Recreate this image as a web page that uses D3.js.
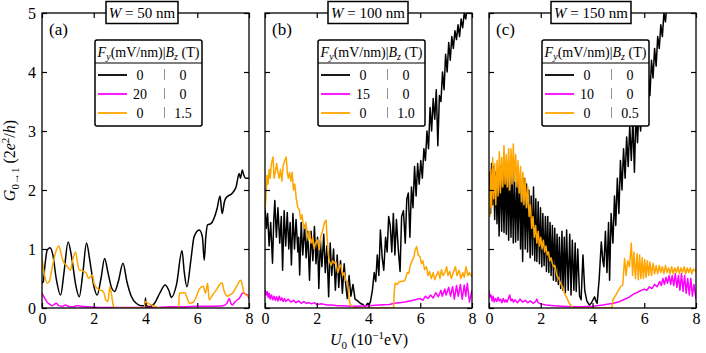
<!DOCTYPE html>
<html>
<head>
<meta charset="utf-8">
<script src="https://cdn.jsdelivr.net/npm/d3@7"></script>
<style>
body { margin: 0; background: #fff; }
svg text { font-family: 'Liberation Serif', 'Times New Roman', serif; fill: #000; }
</style>
</head>
<body>
<script>
const uTicks = [0, 2, 4, 6, 8]
const gTicks = [0, 1, 2, 3, 4, 5]
const panelLabels = ['(a)', '(b)', '(c)']
const wireWidths = ['50', '100', '150']
const fieldValues = ['20', '15', '10']
const bzValues = ['1.5', '1.0', '0.5']
const colors = ['#000000', '#ff00ff', '#ffa500']

// (U0, G) pairs
const aBlack = [[0,0.42],[0.05,0.45],[0.12,0.75],[0.2,0.98],[0.31,1.02],[0.42,0.9],[0.55,0.5],[0.72,0.22],[0.85,0.6],[1.01,1.12],[1.15,0.85],[1.3,0.4],[1.44,0.19],[1.58,0.6],[1.72,1.10],[1.85,0.8],[2.0,0.38],[2.13,0.22],[2.28,0.5],[2.42,0.84],[2.55,0.6],[2.7,0.33],[2.81,0.28],[2.95,0.45],[3.13,0.76],[3.28,0.45],[3.45,0.2],[3.64,0.08],[3.85,0.04],[3.98,0.04],[4.0,0.17],[4.02,0.05],[4.15,0.02],[4.35,0.08],[4.55,0.25],[4.76,0.39],[4.9,0.3],[5.0,0.18],[5.2,0.4],[5.41,0.97],[5.5,0.6],[5.6,0.36],[5.75,0.8],[5.88,1.21],[6.08,1.32],[6.2,1.2],[6.27,0.81],[6.33,1.2],[6.4,1.41],[6.53,1.43],[6.77,1.69],[6.88,1.9],[6.96,1.6],[7.05,1.8],[7.1,1.86],[7.36,1.95],[7.5,2.05],[7.62,2.28],[7.67,2.2],[7.74,2.34],[7.8,2.25],[7.87,2.2],[8,2.2]]
const aMagenta = [[0,0.25],[0.1,0.17],[0.2,0.1],[0.31,0.06],[0.4,0.04],[0.5,0.07],[0.56,0.08],[0.65,0.04],[0.8,0.03],[0.9,0.05],[1.0,0.03],[1.2,0.02],[1.35,0.04],[1.5,0.03],[1.8,0.02],[2.2,0.01],[2.6,0.01],[3.0,0.01],[3.5,0.01],[4.0,0.01],[4.5,0.01],[5.0,0.02],[5.5,0.02],[6.0,0.03],[6.5,0.03],[7.0,0.04],[7.15,0.08],[7.23,0.16],[7.3,0.08],[7.36,0.05],[7.45,0.1],[7.55,0.14],[7.62,0.16],[7.7,0.22],[7.77,0.26],[7.85,0.24],[7.95,0.22],[8,0.15]]
const aOrange = [[0,0.84],[0.08,0.6],[0.2,0.42],[0.28,0.45],[0.4,0.7],[0.5,0.9],[0.65,1.05],[0.75,0.9],[0.82,0.79],[0.95,0.72],[1.1,0.64],[1.18,0.8],[1.3,0.95],[1.36,0.8],[1.44,0.64],[1.53,0.64],[1.6,0.62],[1.7,0.6],[1.8,0.5],[1.95,0.56],[2.01,0.42],[2.1,0.35],[2.2,0.31],[2.3,0.3],[2.4,0.25],[2.46,0.14],[2.55,0.11],[2.62,0.36],[2.68,0.25],[2.75,0.05],[2.81,0],[3.95,0],[4.0,0.11],[4.1,0.08],[4.3,0.04],[4.54,0],[5.28,0],[5.31,0.25],[5.44,0.26],[5.52,0.26],[5.6,0.18],[5.7,0.08],[5.85,0.1],[5.95,0.18],[6.08,0.32],[6.23,0.37],[6.32,0.25],[6.4,0.42],[6.46,0.14],[6.59,0.22],[6.77,0.33],[6.85,0.39],[6.96,0.43],[7.03,0.3],[7.17,0.2],[7.25,0.22],[7.36,0.25],[7.5,0.35],[7.68,0.47],[7.74,0.4],[7.81,0.25],[7.9,0.22],[8,0.19]]

const bBlack = [[0,1.70],[0.05,1.35],[0.10,1.60],[0.16,1.05],[0.22,1.45],[0.29,0.76],[0.34,1.50],[0.38,1.82],[0.44,1.20],[0.50,1.70],[0.57,1.10],[0.63,1.55],[0.68,0.64],[0.74,1.65],[0.80,1.05],[0.86,1.62],[0.92,1.00],[0.97,1.45],[1.02,0.73],[1.08,1.60],[1.14,1.00],[1.20,1.50],[1.27,0.95],[1.30,1.20],[1.34,0.56],[1.40,1.45],[1.46,0.90],[1.53,1.40],[1.59,0.85],[1.65,1.30],[1.72,0.47],[1.78,1.30],[1.85,0.80],[1.91,1.38],[1.97,0.75],[2.03,1.20],[2.08,0.33],[2.14,1.15],[2.20,0.70],[2.27,1.25],[2.33,0.60],[2.39,1.05],[2.46,0.19],[2.52,1.10],[2.58,0.55],[2.65,1.00],[2.72,0.30],[2.79,0.90],[2.85,0.35],[2.92,0.80],[2.99,0.25],[3.06,0.75],[3.12,0.40],[3.18,0.16],[3.25,0.55],[3.32,0.20],[3.40,0.40],[3.48,0.15],[3.58,0.12],[3.68,0.08],[3.78,0.06],[3.86,0.03],[3.92,0.05],[3.97,0.08],[4.02,0.05],[4.08,0.12],[4.15,0.30],[4.22,0.60],[4.28,0.45],[4.34,0.90],[4.40,0.55],[4.46,1.32],[4.53,0.85],[4.59,0.64],[4.66,1.20],[4.72,0.95],[4.78,1.55],[4.84,1.40],[4.90,0.95],[4.96,1.60],[5.02,0.90],[5.08,1.50],[5.15,1.00],[5.22,0.62],[5.28,1.55],[5.35,1.65],[5.42,1.10],[5.48,1.85],[5.54,1.95],[5.60,1.20],[5.66,2.05],[5.72,1.70],[5.78,2.40],[5.84,1.90],[5.90,2.45],[5.96,2.10],[6.02,2.50],[6.08,2.20],[6.14,2.70],[6.20,2.50],[6.26,3.00],[6.32,2.70],[6.38,3.40],[6.44,3.00],[6.50,3.55],[6.56,3.20],[6.62,3.70],[6.68,2.75],[6.74,3.60],[6.80,3.50],[6.86,4.00],[6.92,3.70],[6.98,4.30],[7.04,4.00],[7.10,4.50],[7.16,4.20],[7.22,4.60],[7.28,4.40],[7.34,4.70],[7.40,4.55],[7.46,4.80],[7.52,4.60],[7.58,4.90],[7.64,4.75],[7.70,5.00],[7.76,4.90],[7.82,5.15],[7.90,5.30],[8.0,5.40]]
const bMagenta = [[0,0.31],[0.04,0.22],[0.08,0.28],[0.12,0.18],[0.16,0.25],[0.2,0.15],[0.25,0.22],[0.3,0.14],[0.35,0.2],[0.4,0.13],[0.45,0.19],[0.5,0.12],[0.55,0.2],[0.6,0.13],[0.65,0.17],[0.7,0.11],[0.75,0.16],[0.8,0.11],[0.9,0.15],[1.0,0.1],[1.1,0.13],[1.2,0.09],[1.3,0.12],[1.4,0.08],[1.5,0.11],[1.6,0.08],[1.7,0.09],[1.8,0.07],[1.9,0.09],[2.0,0.06],[2.2,0.07],[2.4,0.05],[2.6,0.05],[2.8,0.04],[3.0,0.04],[3.3,0.03],[3.6,0.03],[4.0,0.04],[4.4,0.05],[4.8,0.06],[5.0,0.08],[5.2,0.09],[5.4,0.1],[5.6,0.12],[5.8,0.14],[6.0,0.16],[6.1,0.13],[6.2,0.2],[6.3,0.16],[6.4,0.22],[6.5,0.17],[6.6,0.26],[6.7,0.19],[6.8,0.3],[6.85,0.2],[6.95,0.32],[7.0,0.22],[7.1,0.35],[7.17,0.2],[7.25,0.36],[7.32,0.15],[7.4,0.38],[7.47,0.2],[7.55,0.4],[7.62,0.15],[7.7,0.39],[7.76,0.2],[7.82,0.42],[7.9,0.1],[8,0.3]]
const bOrange = [[0,1.66],[0.04,1.9],[0.08,2.25],[0.12,2.1],[0.16,2.35],[0.2,2.2],[0.25,2.45],[0.31,2.56],[0.35,2.2],[0.4,2.3],[0.45,2.45],[0.5,2.3],[0.55,2.2],[0.6,2.35],[0.65,2.15],[0.7,2.4],[0.76,2.5],[0.82,2.56],[0.86,2.3],[0.9,2.2],[0.95,2.3],[1.0,2.15],[1.05,2.3],[1.1,2.0],[1.15,2.1],[1.21,1.85],[1.27,1.7],[1.33,1.66],[1.38,1.5],[1.43,1.58],[1.48,1.4],[1.53,1.35],[1.58,1.45],[1.63,1.25],[1.68,1.15],[1.72,1.3],[1.78,1.1],[1.85,1.19],[1.9,1.0],[1.95,1.1],[2.02,1.15],[2.1,0.99],[2.15,1.2],[2.22,1.3],[2.3,1.45],[2.36,1.49],[2.4,1.2],[2.44,0.95],[2.48,0.81],[2.55,0.72],[2.62,0.8],[2.68,0.76],[2.74,0.78],[2.81,0.6],[2.88,0.7],[2.93,0.73],[3.0,0.55],[3.06,0.6],[3.12,0.47],[3.19,0.45],[3.25,0.14],[3.3,0.06],[3.38,0.02],[3.44,0],[4.97,0],[5.0,0.3],[5.03,0.42],[5.1,0.4],[5.2,0.45],[5.3,0.45],[5.41,0.47],[5.5,0.6],[5.56,0.59],[5.6,0.7],[5.68,0.8],[5.76,0.87],[5.8,0.98],[5.86,1.04],[5.92,0.9],[5.99,0.87],[6.05,0.75],[6.1,0.8],[6.17,0.65],[6.24,0.7],[6.3,0.55],[6.36,0.62],[6.43,0.5],[6.5,0.6],[6.56,0.48],[6.62,0.55],[6.7,0.62],[6.76,0.5],[6.82,0.65],[6.88,0.55],[6.95,0.6],[7.02,0.7],[7.07,0.55],[7.14,0.62],[7.2,0.5],[7.28,0.6],[7.36,0.7],[7.42,0.55],[7.5,0.64],[7.57,0.5],[7.64,0.6],[7.7,0.52],[7.77,0.7],[7.84,0.55],[7.9,0.6],[8,0.53]]

const cBlack = [[0,1.70],[0.03,2.30],[0.06,1.60],[0.1,2.45],[0.14,1.75],[0.18,2.40],[0.22,1.50],[0.26,2.30],[0.31,1.43],[0.35,2.35],[0.39,1.22],[0.44,2.40],[0.49,1.30],[0.53,2.40],[0.58,1.28],[0.62,2.46],[0.67,1.25],[0.71,2.35],[0.76,1.15],[0.80,2.35],[0.85,1.20],[0.89,2.30],[0.94,1.10],[0.98,2.35],[1.03,1.12],[1.08,2.25],[1.12,1.15],[1.17,2.20],[1.22,1.00],[1.26,2.10],[1.30,0.79],[1.35,2.20],[1.40,1.00],[1.45,2.10],[1.49,0.95],[1.54,2.00],[1.59,0.85],[1.63,1.90],[1.68,0.90],[1.72,2.05],[1.77,0.80],[1.81,1.85],[1.85,0.79],[1.90,1.80],[1.95,0.75],[1.99,1.70],[2.04,0.70],[2.08,1.60],[2.13,0.72],[2.18,1.55],[2.22,0.62],[2.27,1.55],[2.31,0.60],[2.36,1.45],[2.40,0.55],[2.45,1.40],[2.49,0.47],[2.54,1.35],[2.59,0.45],[2.63,1.25],[2.68,0.40],[2.72,1.20],[2.77,0.33],[2.82,1.30],[2.86,0.30],[2.91,1.20],[2.95,0.26],[3.00,1.32],[3.06,0.30],[3.12,1.25],[3.17,0.22],[3.22,1.15],[3.28,0.30],[3.33,1.10],[3.37,0.28],[3.43,1.00],[3.50,0.20],[3.56,0.14],[3.63,0.90],[3.70,0.30],[3.78,0.12],[3.88,0.05],[3.95,0.08],[4.02,0.14],[4.08,0.19],[4.13,0.12],[4.18,0.08],[4.26,0.50],[4.34,1.12],[4.40,0.80],[4.44,0.70],[4.50,1.30],[4.56,0.60],[4.62,1.45],[4.66,0.47],[4.72,1.60],[4.79,1.10],[4.85,1.90],[4.90,1.40],[4.96,2.20],[5.02,1.60],[5.08,2.50],[5.14,2.00],[5.20,2.70],[5.26,2.20],[5.32,2.90],[5.38,2.40],[5.44,3.10],[5.50,2.50],[5.56,3.20],[5.62,2.30],[5.68,3.30],[5.74,2.80],[5.80,3.40],[5.86,3.00],[5.92,3.60],[5.98,3.20],[6.04,3.80],[6.10,3.40],[6.16,3.95],[6.22,3.60],[6.28,4.20],[6.34,3.90],[6.40,4.40],[6.46,4.10],[6.52,4.60],[6.58,4.40],[6.64,4.80],[6.70,4.60],[6.76,5.00],[6.82,4.85],[6.88,5.20],[6.95,5.40],[7.0,5.60]]
const cMagenta = [[0,0.30],[0.04,0.18],[0.08,0.22],[0.12,0.12],[0.16,0.20],[0.2,0.10],[0.25,0.16],[0.3,0.11],[0.35,0.18],[0.4,0.12],[0.45,0.15],[0.5,0.09],[0.55,0.16],[0.6,0.10],[0.65,0.14],[0.7,0.10],[0.75,0.16],[0.8,0.22],[0.85,0.12],[0.9,0.15],[0.95,0.10],[1.0,0.14],[1.1,0.09],[1.2,0.15],[1.3,0.10],[1.4,0.13],[1.5,0.09],[1.6,0.12],[1.7,0.08],[1.8,0.11],[1.85,0.15],[1.9,0.09],[2.0,0.07],[2.2,0.05],[2.5,0.04],[2.8,0.03],[3.2,0.02],[3.6,0.02],[4.0,0.03],[4.4,0.05],[4.8,0.08],[5.0,0.10],[5.2,0.14],[5.4,0.18],[5.6,0.24],[5.8,0.28],[6.0,0.32],[6.1,0.30],[6.2,0.36],[6.3,0.33],[6.4,0.40],[6.5,0.36],[6.6,0.45],[6.66,0.38],[6.72,0.50],[6.78,0.40],[6.84,0.52],[6.9,0.42],[6.96,0.55],[7.02,0.40],[7.08,0.55],[7.14,0.38],[7.2,0.58],[7.26,0.35],[7.32,0.55],[7.38,0.30],[7.44,0.58],[7.5,0.28],[7.56,0.55],[7.62,0.25],[7.68,0.50],[7.74,0.22],[7.8,0.50],[7.86,0.20],[7.92,0.40],[8.0,0.15]]
const cOrange = [[0,2.0],[0.03,1.55],[0.06,2.35],[0.1,1.70],[0.14,2.55],[0.18,1.85],[0.22,2.45],[0.26,1.75],[0.31,2.50],[0.35,1.90],[0.40,2.65],[0.44,1.95],[0.49,2.55],[0.53,2.05],[0.58,2.75],[0.62,2.10],[0.67,2.60],[0.71,2.05],[0.76,2.70],[0.80,2.00],[0.85,2.70],[0.89,2.10],[0.94,2.78],[0.98,2.15],[1.03,2.60],[1.08,2.05],[1.12,2.50],[1.17,1.95],[1.22,2.40],[1.26,1.80],[1.31,2.30],[1.35,1.75],[1.40,2.20],[1.45,1.70],[1.50,2.05],[1.55,1.55],[1.60,1.75],[1.65,1.35],[1.70,1.55],[1.75,1.20],[1.80,1.40],[1.85,1.10],[1.90,1.30],[1.95,1.05],[2.00,1.20],[2.05,1.00],[2.10,1.15],[2.15,0.95],[2.20,1.05],[2.25,0.90],[2.30,0.95],[2.35,0.80],[2.40,0.85],[2.45,0.75],[2.50,0.70],[2.55,0.72],[2.62,0.55],[2.70,0.50],[2.78,0.40],[2.85,0.35],[2.92,0.25],[3.00,0.18],[3.08,0.10],[3.15,0.05],[3.25,0],[4.75,0],[4.79,0.14],[4.90,0.22],[4.98,0.28],[5.08,0.36],[5.17,0.39],[5.24,0.84],[5.30,0.55],[5.36,0.80],[5.43,0.70],[5.50,1.10],[5.55,0.55],[5.60,0.95],[5.66,0.50],[5.72,0.92],[5.77,0.48],[5.82,0.90],[5.87,0.50],[5.92,0.85],[5.97,0.50],[6.02,0.82],[6.07,0.52],[6.12,0.80],[6.17,0.55],[6.22,0.78],[6.28,0.55],[6.34,0.76],[6.40,0.58],[6.46,0.72],[6.52,0.58],[6.58,0.72],[6.64,0.60],[6.70,0.70],[6.76,0.58],[6.82,0.72],[6.88,0.60],[6.94,0.68],[7.00,0.58],[7.06,0.70],[7.12,0.58],[7.18,0.68],[7.24,0.60],[7.30,0.70],[7.36,0.58],[7.42,0.68],[7.48,0.60],[7.54,0.70],[7.60,0.58],[7.66,0.68],[7.72,0.60],[7.78,0.68],[7.84,0.58],[7.90,0.66],[8.0,0.62]]

const series = [
  [aBlack, aMagenta, aOrange],
  [bBlack, bMagenta, bOrange],
  [cBlack, cMagenta, cOrange]
]

const width = 706
const height = 353
const plotTop = 13
const plotBottom = 308
const panelLeft = [42, 265, 489]
const panelWidth = 207
const titleCenter = [142, 368, 591]
const titleWidth = [72, 80, 80]

const svg = d3.select('body')
  .append('svg')
  .attr('width', width)
  .attr('height', height)

const y = d3.scaleLinear().domain([0, 5]).range([plotBottom, plotTop])

series.forEach((lines, i) => {
  const left = panelLeft[i]
  const x = d3.scaleLinear().domain([0, 8]).range([left, left + panelWidth])
  const g = svg.append('g')

  g.append('clipPath')
    .attr('id', 'clip' + i)
    .append('rect')
    .attr('x', left)
    .attr('y', plotTop)
    .attr('width', panelWidth)
    .attr('height', plotBottom - plotTop)

  // panel (a) has smooth curves, the others are jagged
  const line = d3.line()
    .x(d => x(d[0]))
    .y(d => y(d[1]))
    .curve(i === 0 ? d3.curveMonotoneX : d3.curveLinear)

  g.append('g')
    .attr('clip-path', `url(#clip${i})`)
    .selectAll('path')
    .data(lines)
    .join('path')
    .attr('d', line)
    .attr('fill', 'none')
    .attr('stroke', (d, k) => colors[k])
    .attr('stroke-width', 1.5)
    .attr('stroke-linejoin', 'round')

  // ticks on all four sides, pointing in
  const axes = [
    [d3.axisBottom(x).tickValues(uTicks).tickFormat(d3.format('d')).tickSize(-5).tickPadding(5), `translate(0,${plotBottom})`, true],
    [d3.axisTop(x).tickValues(uTicks).tickSize(-5), `translate(0,${plotTop})`, false],
    [d3.axisLeft(y).tickValues(gTicks).tickFormat(d3.format('d')).tickSize(-5).tickPadding(6), `translate(${left},0)`, i === 0],
    [d3.axisRight(y).tickValues(gTicks).tickSize(-5), `translate(${left + panelWidth},0)`, false]
  ]
  axes.forEach(([axis, tr, labels]) => {
    const a = g.append('g').attr('transform', tr).call(axis)
    a.select('.domain').remove()
    a.selectAll('line').attr('stroke', '#000').attr('stroke-width', 1.2)
    a.selectAll('text')
      .style('font-size', '16px')
      .attr('fill', '#000')
      .style('display', labels ? null : 'none')
  })

  g.append('rect')
    .attr('x', left)
    .attr('y', plotTop)
    .attr('width', panelWidth)
    .attr('height', plotBottom - plotTop)
    .attr('fill', 'none')
    .attr('stroke', '#000')
    .attr('stroke-width', 1.3)

  g.append('text')
    .attr('x', left + 7)
    .attr('y', 35)
    .style('font-size', '17px')
    .text(panelLabels[i])

  // W box on top edge
  const tc = titleCenter[i]
  g.append('rect')
    .attr('x', tc - titleWidth[i] / 2)
    .attr('y', 1.5)
    .attr('width', titleWidth[i])
    .attr('height', 22)
    .attr('fill', '#fff')
    .attr('stroke', '#000')
    .attr('stroke-width', 1.5)
  const tt = g.append('text')
    .attr('x', tc)
    .attr('y', 18)
    .attr('text-anchor', 'middle')
    .style('font-size', '15px')
  tt.append('tspan').style('font-style', 'italic').text('W')
  tt.append('tspan').text(` = ${wireWidths[i]} nm`)

  // legend table
  const lx = left + 53
  const lg = g.append('g').attr('transform', `translate(${lx},40)`)
  lg.append('rect')
    .attr('width', 107)
    .attr('height', 86)
    .attr('rx', 2)
    .attr('fill', '#fff')
    .attr('stroke', '#000')
    .attr('stroke-width', 1.5)
  lg.append('line')
    .attr('x1', 0).attr('x2', 107)
    .attr('y1', 23).attr('y2', 23)
    .attr('stroke', '#000')
    .attr('stroke-width', 1.2)
  const ht = lg.append('text')
    .attr('x', 53.5)
    .attr('y', 17)
    .attr('text-anchor', 'middle')
    .style('font-size', '14px')
  ht.append('tspan').style('font-style', 'italic').text('F')
  ht.append('tspan').attr('dy', 3).style('font-size', '10px').style('font-style', 'italic').text('y')
  ht.append('tspan').attr('dy', -3).text('(mV/nm)|')
  ht.append('tspan').style('font-style', 'italic').text('B')
  ht.append('tspan').attr('dy', 3).style('font-size', '10px').style('font-style', 'italic').text('z')
  ht.append('tspan').attr('dy', -3).text(' (T)')

  const rows = [['0', '0'], [fieldValues[i], '0'], ['0', bzValues[i]]]
  rows.forEach((r, k) => {
    const ry = 35 + k * 19
    lg.append('line')
      .attr('x1', 3).attr('x2', 32)
      .attr('y1', ry).attr('y2', ry)
      .attr('stroke', colors[k])
      .attr('stroke-width', 1.8)
    lg.append('text').attr('x', 45).attr('y', ry + 5).attr('text-anchor', 'middle')
      .style('font-size', '14px').text(r[0])
    lg.append('line')
      .attr('x1', 69.5).attr('x2', 69.5)
      .attr('y1', ry - 6).attr('y2', ry + 5)
      .attr('stroke', '#777')
      .attr('stroke-width', 0.8)
    lg.append('text').attr('x', 88).attr('y', ry + 5).attr('text-anchor', 'middle')
      .style('font-size', '14px').text(r[1])
  })
})

// axis titles
const yl = svg.append('text')
  .attr('transform', `translate(15,${(plotTop + plotBottom) / 2}) rotate(-90)`)
  .attr('text-anchor', 'middle')
  .style('font-size', '16px')
yl.append('tspan').style('font-style', 'italic').text('G')
yl.append('tspan').attr('dy', 4).style('font-size', '11px').text('0→1')
yl.append('tspan').attr('dy', -4).text(' (2')
yl.append('tspan').style('font-style', 'italic').text('e')
yl.append('tspan').attr('dy', -6).style('font-size', '11px').text('2')
yl.append('tspan').attr('dy', 6).text('/')
yl.append('tspan').style('font-style', 'italic').text('h')
yl.append('tspan').text(')')

const xl = svg.append('text')
  .attr('x', 369)
  .attr('y', 345)
  .attr('text-anchor', 'middle')
  .style('font-size', '16px')
xl.append('tspan').style('font-style', 'italic').text('U')
xl.append('tspan').attr('dy', 4).style('font-size', '11px').text('0')
xl.append('tspan').attr('dy', -4).text(' (10')
xl.append('tspan').attr('dy', -6).style('font-size', '11px').text('−1')
xl.append('tspan').attr('dy', 6).text('eV)')
</script>
</body>
</html>
